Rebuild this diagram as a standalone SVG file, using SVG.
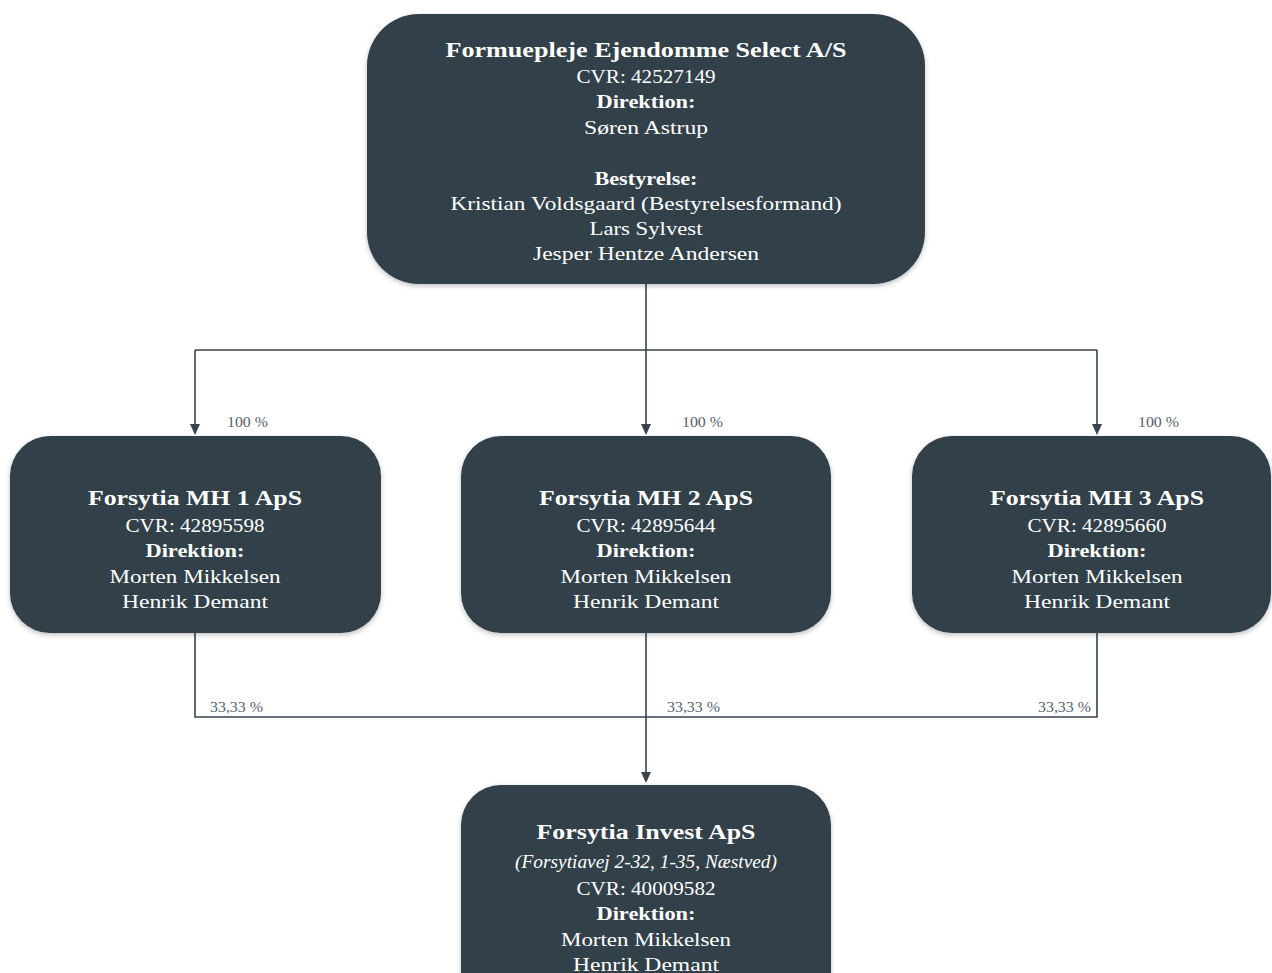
<svg xmlns="http://www.w3.org/2000/svg" width="1272" height="973" viewBox="0 0 1272 973">
<defs>
<style>
.box{fill:#323f4a;filter:url(#sh)}
.t{font-family:"Liberation Serif","DejaVu Serif",serif;fill:#ffffff;text-anchor:middle}
.h{font-size:22px;font-weight:bold}
.r{font-size:19px}
.b{font-size:19px;font-weight:bold}
.i{font-size:18px;font-style:italic}
.lbl{font-family:"Liberation Serif","DejaVu Serif",serif;font-size:14px;fill:#55616c}
.ln{stroke:#37434d;stroke-width:1.6;fill:none}
.ah{fill:#37434d}
</style>
<filter id="sh" x="-10%" y="-10%" width="120%" height="125%">
<feDropShadow dx="0" dy="2" stdDeviation="2.5" flood-color="#000" flood-opacity="0.25"/>
</filter>
</defs>
<rect width="1272" height="973" fill="#ffffff"/>
<g id="connectors">
<line class="ln" x1="646" y1="284" x2="646" y2="350"/>
<line class="ln" x1="195" y1="350" x2="1097" y2="350"/>
<path d="M195,350 L195,424" class="ln"/>
<path d="M190,424 L200,424 L195,435 Z" class="ah"/>
<path d="M646,350 L646,424" class="ln"/>
<path d="M641,424 L651,424 L646,435 Z" class="ah"/>
<path d="M1097,350 L1097,424" class="ln"/>
<path d="M1092,424 L1102,424 L1097,435 Z" class="ah"/>
<path d="M195,633 L195,717 L1097,717 L1097,633" class="ln"/>
<path d="M646,633 L646,772" class="ln"/>
<path d="M641,772 L651,772 L646,783 Z" class="ah"/>
<text class="lbl" x="227" y="427" textLength="41" lengthAdjust="spacingAndGlyphs">100 %</text>
<text class="lbl" x="682" y="427" textLength="41" lengthAdjust="spacingAndGlyphs">100 %</text>
<text class="lbl" x="1138" y="427" textLength="41" lengthAdjust="spacingAndGlyphs">100 %</text>
<text class="lbl" x="210" y="712" textLength="53" lengthAdjust="spacingAndGlyphs">33,33 %</text>
<text class="lbl" x="667" y="712" textLength="53" lengthAdjust="spacingAndGlyphs">33,33 %</text>
<text class="lbl" x="1038" y="712" textLength="53" lengthAdjust="spacingAndGlyphs">33,33 %</text>
</g>
<g id="parent">
<rect class="box" x="367" y="14" width="558" height="270" rx="52" ry="52"/>
<text class="t h" x="646" y="57" textLength="401" lengthAdjust="spacingAndGlyphs">Formuepleje Ejendomme Select A/S</text>
<text class="t r" x="646" y="83" textLength="139" lengthAdjust="spacingAndGlyphs">CVR: 42527149</text>
<text class="t b" x="646" y="108" textLength="99" lengthAdjust="spacingAndGlyphs">Direktion:</text>
<text class="t r" x="646" y="134" textLength="124" lengthAdjust="spacingAndGlyphs">Søren Astrup</text>
<text class="t b" x="646" y="185" textLength="103" lengthAdjust="spacingAndGlyphs">Bestyrelse:</text>
<text class="t r" x="646" y="210" textLength="391" lengthAdjust="spacingAndGlyphs">Kristian Voldsgaard (Bestyrelsesformand)</text>
<text class="t r" x="646" y="235" textLength="113" lengthAdjust="spacingAndGlyphs">Lars Sylvest</text>
<text class="t r" x="646" y="260" textLength="226" lengthAdjust="spacingAndGlyphs">Jesper Hentze Andersen</text>
</g>
<g id="mh1">
<rect class="box" x="10" y="436" width="371" height="197" rx="40" ry="40"/>
<text class="t h" x="195" y="505" textLength="214" lengthAdjust="spacingAndGlyphs">Forsytia MH 1 ApS</text>
<text class="t r" x="195" y="532" textLength="139" lengthAdjust="spacingAndGlyphs">CVR: 42895598</text>
<text class="t b" x="195" y="557" textLength="99" lengthAdjust="spacingAndGlyphs">Direktion:</text>
<text class="t r" x="195" y="583" textLength="171" lengthAdjust="spacingAndGlyphs">Morten Mikkelsen</text>
<text class="t r" x="195" y="608" textLength="146" lengthAdjust="spacingAndGlyphs">Henrik Demant</text>
</g>
<g id="mh2">
<rect class="box" x="461" y="436" width="370" height="197" rx="40" ry="40"/>
<text class="t h" x="646" y="505" textLength="214" lengthAdjust="spacingAndGlyphs">Forsytia MH 2 ApS</text>
<text class="t r" x="646" y="532" textLength="139" lengthAdjust="spacingAndGlyphs">CVR: 42895644</text>
<text class="t b" x="646" y="557" textLength="99" lengthAdjust="spacingAndGlyphs">Direktion:</text>
<text class="t r" x="646" y="583" textLength="171" lengthAdjust="spacingAndGlyphs">Morten Mikkelsen</text>
<text class="t r" x="646" y="608" textLength="146" lengthAdjust="spacingAndGlyphs">Henrik Demant</text>
</g>
<g id="mh3">
<rect class="box" x="912" y="436" width="359" height="197" rx="40" ry="40"/>
<text class="t h" x="1097" y="505" textLength="214" lengthAdjust="spacingAndGlyphs">Forsytia MH 3 ApS</text>
<text class="t r" x="1097" y="532" textLength="139" lengthAdjust="spacingAndGlyphs">CVR: 42895660</text>
<text class="t b" x="1097" y="557" textLength="99" lengthAdjust="spacingAndGlyphs">Direktion:</text>
<text class="t r" x="1097" y="583" textLength="171" lengthAdjust="spacingAndGlyphs">Morten Mikkelsen</text>
<text class="t r" x="1097" y="608" textLength="146" lengthAdjust="spacingAndGlyphs">Henrik Demant</text>
</g>
<g id="invest">
<rect class="box" x="461" y="785" width="370" height="230" rx="40" ry="40"/>
<text class="t h" x="646" y="839" textLength="219" lengthAdjust="spacingAndGlyphs">Forsytia Invest ApS</text>
<text class="t i" x="646" y="868" textLength="262" lengthAdjust="spacingAndGlyphs">(Forsytiavej 2-32, 1-35, Næstved)</text>
<text class="t r" x="646" y="895" textLength="139" lengthAdjust="spacingAndGlyphs">CVR: 40009582</text>
<text class="t b" x="646" y="920" textLength="99" lengthAdjust="spacingAndGlyphs">Direktion:</text>
<text class="t r" x="646" y="946" textLength="170" lengthAdjust="spacingAndGlyphs">Morten Mikkelsen</text>
<text class="t r" x="646" y="971" textLength="146" lengthAdjust="spacingAndGlyphs">Henrik Demant</text>
</g>
</svg>
